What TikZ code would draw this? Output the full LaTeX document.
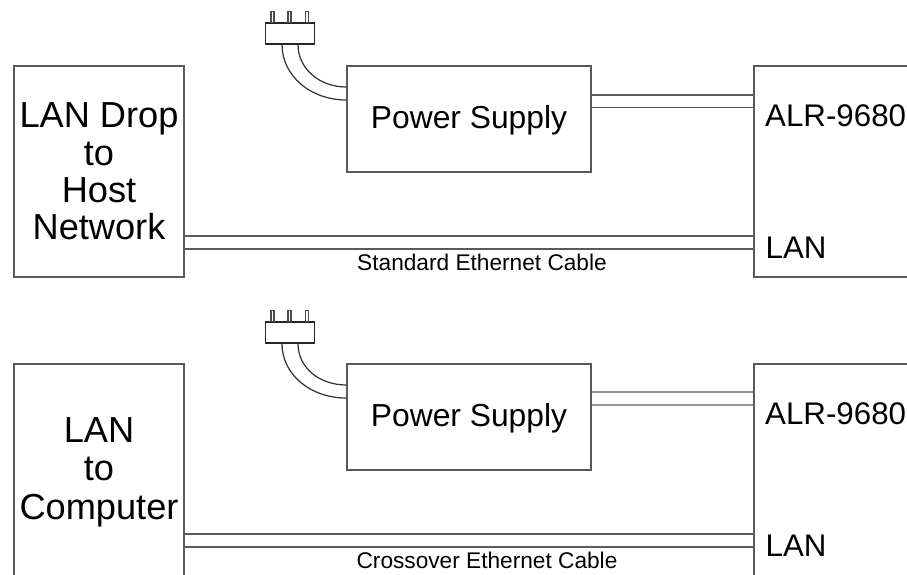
\documentclass[tikz,border=0pt]{standalone}
\usepackage{fontspec}
\setmainfont{Liberation Sans}
\usepackage{xcolor}
\definecolor{wiregray}{RGB}{90,90,90}
\tikzstyle{unit} = [rectangle, draw=wiregray, line width=0.35pt, inner sep=0pt, align=center, font=\fontsize{9.05}{10.7}\selectfont]
\tikzstyle{hostbox} = [unit, minimum width=1.7cm, font=\fontsize{10.3}{10.65}\selectfont]
\tikzstyle{supply} = [unit, minimum width=2.44cm, minimum height=1.06cm, text height=0.25cm, text depth=0.064cm]
\tikzstyle{reader} = [unit, minimum width=1.76cm]
\tikzstyle{plugbody} = [rectangle, draw=black!85, line width=0.35pt, minimum width=0.49cm, minimum height=0.21cm, inner sep=0pt]
\tikzstyle{pin} = [rectangle, draw=black!70, line width=0.3pt, minimum width=0.03cm, minimum height=0.11cm, inner sep=0pt]
\tikzstyle{port} = [anchor=base west, inner sep=0pt, font=\fontsize{8.9}{11}\selectfont]
\tikzstyle{cable} = [anchor=base, inner sep=0pt, font=\fontsize{6.45}{8}\selectfont]
\tikzstyle{wire} = [draw=wiregray, line width=0.35pt]
\tikzstyle{cord} = [draw=black!80, line width=0.35pt]

\begin{document}
\begin{tikzpicture}
\clip (0,0) rectangle (9.07,-5.74);

% Upper setup
\node[hostbox, minimum height=2.11cm] (hosta) at (0.99,-1.715) {LAN Drop\\to\\Host\\Network};
\node[supply] (psa) at (4.69,-1.19) {Power Supply};
\node[reader, minimum height=2.11cm] (alra) at (8.42,-1.715) {};
\node[port] (alrlabela) at (7.645,-1.265) {ALR-9680};
\node[port] (lanlabela) at (7.65,-2.58) {LAN};
\node[cable] (cablea) at (4.82,-2.70) {Standard Ethernet Cable};

% Upper plug
\node[plugbody] (pluga) at (2.9,-0.335) {};
\node[pin, anchor=south] (pina1) at (2.725,-0.23) {};
\node[pin, anchor=south] (pina2) at (2.895,-0.23) {};
\node[pin, anchor=south] (pina3) at (3.07,-0.23) {};

% Upper wires
\draw[wire] ([yshift=0.24cm]psa.east) -- ([yshift=0.765cm]alra.west);
\draw[wire] ([yshift=0.115cm]psa.east) -- ([yshift=0.64cm]alra.west);
\draw[wire] ([yshift=-0.645cm]hosta.east) -- ([yshift=-0.645cm]alra.west);
\draw[wire] ([yshift=-0.775cm]hosta.east) -- ([yshift=-0.775cm]alra.west);
\draw[cord] ([xshift=-0.08cm]pluga.south) .. controls +(0,-0.31) and +(-0.36,0) .. ([yshift=0.19cm]psa.west);
\draw[cord] ([xshift=0.08cm]pluga.south) .. controls +(0,-0.24) and +(-0.27,0) .. ([yshift=0.32cm]psa.west);

% Lower setup (runs off the bottom edge)
\node[hostbox, minimum height=2.16cm, font=\fontsize{10.3}{10.9}\selectfont] (hostb) at (0.99,-4.72) {LAN\\to\\Computer};
\node[supply] (psb) at (4.69,-4.17) {Power Supply};
\node[reader, minimum height=2.16cm] (alrb) at (8.42,-4.72) {};
\node[port] (alrlabelb) at (7.645,-4.245) {ALR-9680};
\node[port] (lanlabelb) at (7.65,-5.56) {LAN};
\node[cable] (cableb) at (4.87,-5.685) {Crossover Ethernet Cable};

% Lower plug
\node[plugbody] (plugb) at (2.9,-3.325) {};
\node[pin, anchor=south] (pinb1) at (2.725,-3.22) {};
\node[pin, anchor=south] (pinb2) at (2.895,-3.22) {};
\node[pin, anchor=south] (pinb3) at (3.07,-3.22) {};

% Lower wires
\draw[wire] ([yshift=0.25cm]psb.east) -- ([yshift=0.80cm]alrb.west);
\draw[wire] ([yshift=0.12cm]psb.east) -- ([yshift=0.67cm]alrb.west);
\draw[wire] ([yshift=-0.62cm]hostb.east) -- ([yshift=-0.62cm]alrb.west);
\draw[wire] ([yshift=-0.75cm]hostb.east) -- ([yshift=-0.75cm]alrb.west);
\draw[cord] ([xshift=-0.08cm]plugb.south) .. controls +(0,-0.31) and +(-0.36,0) .. ([yshift=0.19cm]psb.west);
\draw[cord] ([xshift=0.08cm]plugb.south) .. controls +(0,-0.24) and +(-0.27,0) .. ([yshift=0.32cm]psb.west);
\end{tikzpicture}
\end{document}
